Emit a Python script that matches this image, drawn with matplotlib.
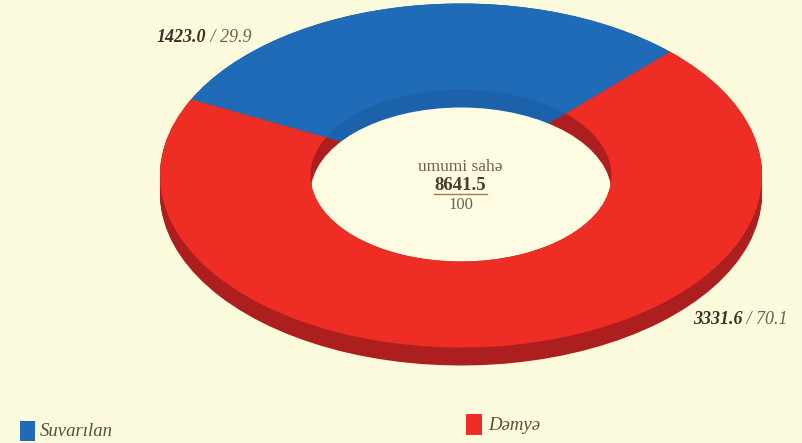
import numpy as np
import matplotlib
matplotlib.use("Agg")
import matplotlib.pyplot as plt
from matplotlib.patches import Ellipse, Rectangle

categories = ["Suvarılan", "Dəmyə"]
areas = [1423.0, 3331.6]
shares = [29.9, 70.1]
center_label = "umumi sahə"
total_area = 8641.5
total_share = 100

face_colors = ["#1f6bb8", "#ee2e24"]
wall_colors = ["#1b62ab", "#ad1f1e"]
bg = "#fcfadc"
text_col = "#3a3226"

W, H = 802, 443
CX, CY, A, B = 461, 175.5, 301, 172
DEPTH = 18 / B
START = 46.0
HOLE = 0.5

fig = plt.figure(figsize=(W / 100, H / 100), dpi=100, facecolor=bg)
ax = fig.add_axes([0, 0, 1, 1])
ax.set_facecolor(bg)

# extruded wall
for off in np.linspace(DEPTH, 0, 19):
    ax.pie(areas, colors=wall_colors, startangle=START, radius=1,
           center=(0, -off), counterclock=True, wedgeprops=dict(linewidth=0))

# hole seen through the extrusion
clip = Ellipse((0, 0), 2 * HOLE, 2 * HOLE, transform=ax.transData, fc="none", ec="none")
ax.add_patch(clip)
hole = Ellipse((0, -DEPTH), 2 * HOLE, 2 * HOLE, fc="#fdfbe2", ec="none", zorder=3)
ax.add_patch(hole)
hole.set_clip_path(clip)

# top face
wedges, _ = ax.pie(areas, colors=face_colors, startangle=START, radius=1,
                   wedgeprops=dict(width=1 - HOLE, linewidth=0))
for w in wedges:
    w.set_zorder(4)

ax.set_aspect("auto")
ax.set_xlim(-CX / A, (W - CX) / A)
ax.set_ylim((CY - H) / B, CY / B)
ax.axis("off")

# overlay in picture coordinates for labels
ov = fig.add_axes([0, 0, 1, 1], facecolor="none")
ov.set_xlim(0, W)
ov.set_ylim(H, 0)
ov.axis("off")
serif = "Liberation Serif"
FS = 13


def value_label(x, y, i):
    t = ov.text(x, y, f"{areas[i]:.1f}", family=serif, style="italic", weight="bold",
                fontsize=FS, color=text_col, va="center", ha="left")
    ov.annotate(f" / {shares[i]:.1f}", xy=(1, 0.5), xycoords=t, family=serif, style="italic",
                fontsize=FS, color="#6a6150", va="center", ha="left")


value_label(157, 37, 0)
value_label(693, 319, 1)

ov.text(460, 167, center_label, family=serif, fontsize=12.5, color="#6f5f4c", ha="center", va="center")
ov.text(460, 186, f"{total_area:.1f}", family=serif, weight="bold", fontsize=13.5, color="#4a3b2b",
        ha="center", va="center")
ov.plot([434, 487], [193.5, 193.5], color="#a5794e", lw=1)
ov.text(461, 205, f"{total_share}", family=serif, fontsize=12, color="#6f6252", ha="center", va="center")

ov.add_patch(Rectangle((20, 421), 15, 20, fc=face_colors[0], ec="none"))
ov.text(40, 431, categories[0], family=serif, style="italic", fontsize=13.5, color="#5a4d3a", va="center")
ov.add_patch(Rectangle((466, 414), 16, 21, fc=face_colors[1], ec="none"))
ov.text(488, 426, categories[1], family=serif, style="italic", fontsize=13.5, color="#5a4d3a", va="center")

fig.savefig("out.png", dpi=100, facecolor=bg)
